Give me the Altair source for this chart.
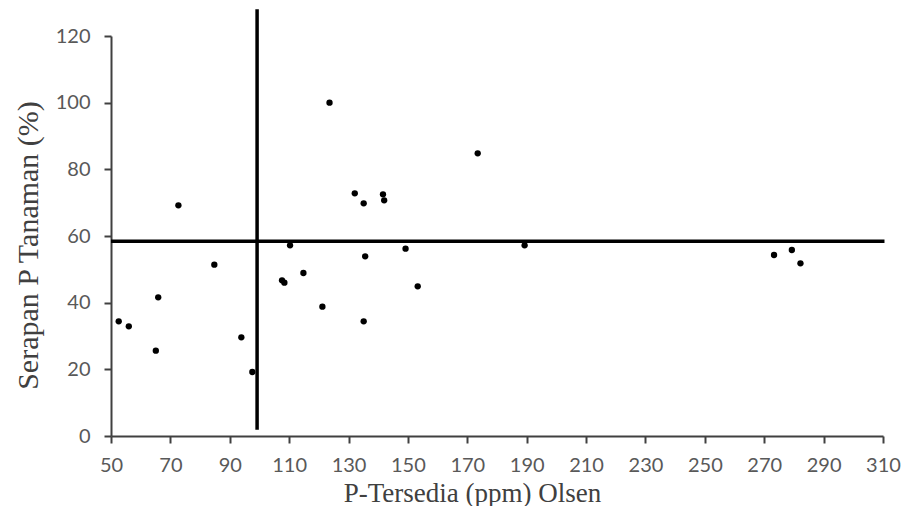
import altair as alt
import pandas as pd

# P-Tersedia (ppm) Olsen
p_tersedia = [52.6, 56.0, 65.1, 65.9, 72.7, 84.8, 93.9, 97.6, 107.6, 108.4,
              110.3, 114.8, 121.2, 123.6, 132.1, 135.1, 135.1, 135.6, 141.6,
              142.0, 149.2, 153.3, 173.5, 189.3, 273.3, 279.3, 282.2]
# Serapan P Tanaman (%)
serapan = [34.4, 32.9, 25.6, 41.6, 69.2, 51.4, 29.6, 19.2, 46.7, 46.0,
           57.2, 48.9, 38.8, 100.0, 72.8, 69.8, 34.4, 53.9, 72.5,
           70.7, 56.2, 44.9, 84.8, 57.2, 54.3, 55.8, 51.8]

# reference lines
v_line_x = [99.2]
v_line_y = [1.9]
v_line_y2 = [128.0]
h_line_y = [58.4]
h_line_x = [50.0]
h_line_x2 = [310.5]

x_ticks = list(range(50, 311, 20))
y_ticks = list(range(0, 121, 20))

df = pd.DataFrame({"x": p_tersedia, "y": serapan})
vdf = pd.DataFrame({"x": v_line_x, "y": v_line_y, "y2": v_line_y2})
hdf = pd.DataFrame({"y": h_line_y, "x": h_line_x, "x2": h_line_x2})

xscale = alt.Scale(domain=[50, 310], nice=False, zero=False)
yscale = alt.Scale(domain=[0, 120], nice=False)

xaxis = alt.Axis(
    title="P-Tersedia (ppm) Olsen", values=x_ticks, grid=False,
    domainColor="#404040", domainWidth=2, tickColor="#404040", tickWidth=2,
    tickSize=7, labelFont="Lato", labelFontSize=20, labelColor="#595959",
    labelPadding=12, labelFlush=False, labelOverlap=False, labelBound=False,
    titleFont="Liberation Serif", titleFontSize=27,
    titleFontWeight="normal", titleColor="#404040", titleX=361, titleY=57,
    titleBaseline="middle", titleAlign="center",
)
yaxis = alt.Axis(
    title="Serapan P Tanaman (%)", values=y_ticks, grid=False,
    domainColor="#404040", domainWidth=2, tickColor="#404040", tickWidth=2,
    tickSize=7, labelFont="Lato", labelFontSize=20, labelColor="#595959",
    labelPadding=14, labelFlush=False, labelOverlap=False, labelBound=False,
    titleFont="Liberation Serif", titleFontSize=30,
    titleFontWeight="normal", titleColor="#404040", titleX=-83, titleY=209,
    titleAngle=-90, titleBaseline="middle", titleAlign="center",
)

points = alt.Chart(df).mark_circle(size=40, color="black", opacity=1).encode(
    x=alt.X("x:Q", scale=xscale, axis=xaxis),
    y=alt.Y("y:Q", scale=yscale, axis=yaxis),
)

vline = alt.Chart(vdf).mark_rule(color="black", strokeWidth=3.5, clip=False).encode(
    x=alt.X("x:Q", scale=xscale),
    y=alt.Y("y:Q", scale=yscale),
    y2="y2:Q",
)

hline = alt.Chart(hdf).mark_rule(color="black", strokeWidth=3.5, clip=False).encode(
    x=alt.X("x:Q", scale=xscale),
    x2="x2:Q",
    y=alt.Y("y:Q", scale=yscale),
)

chart = alt.layer(points, vline, hline).properties(
    width=772, height=400,
    autosize=alt.AutoSizeParams(type="none"),
    padding={"left": 103, "top": 28, "right": 18, "bottom": 70},
    background="white",
).configure_view(stroke=None)

chart.save("out.html", embed_options={"renderer": "svg", "actions": False})
